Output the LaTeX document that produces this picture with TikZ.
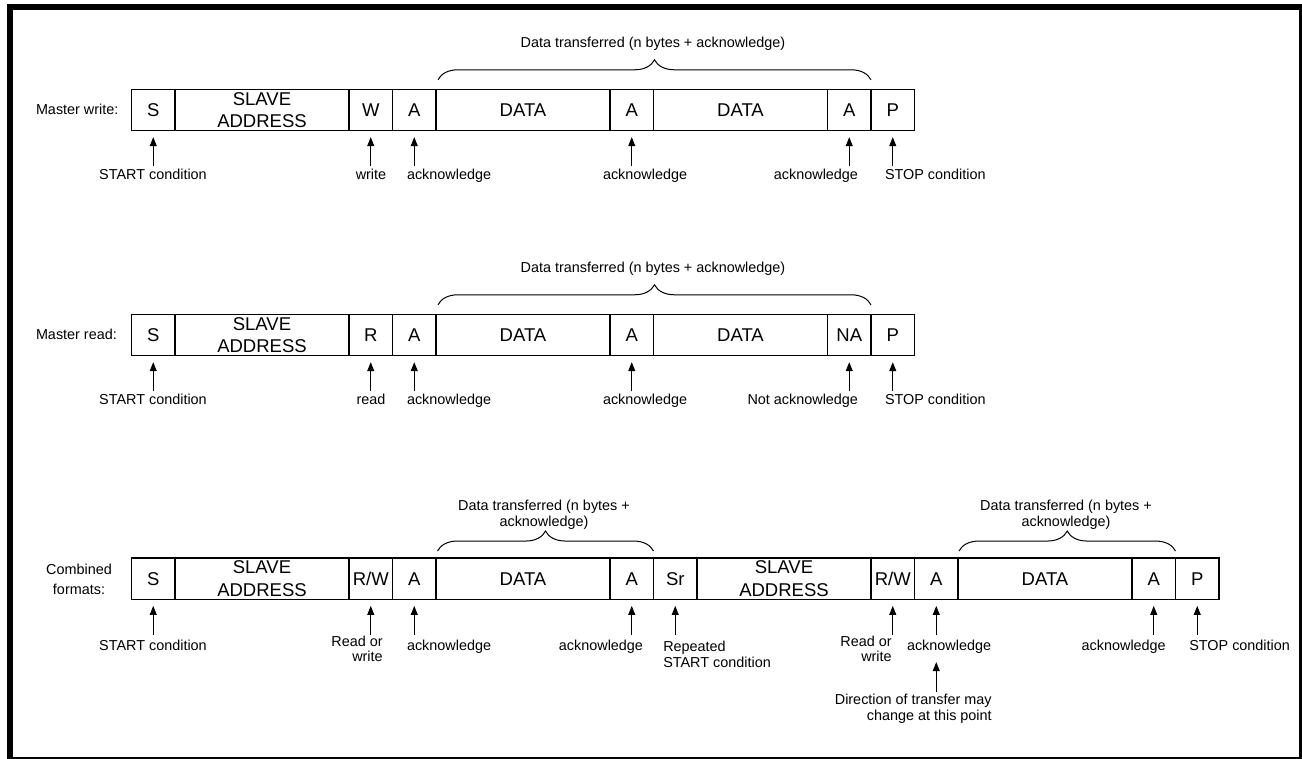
\documentclass[tikz,border=0pt]{standalone}
\usepackage{fontspec}
\setmainfont{Liberation Sans}
\usetikzlibrary{arrows.meta,decorations.pathreplacing}
\tikzset{
  frame/.style={line width=5.8pt},
  cell/.style={draw, line width=1.5pt, minimum height=41.4pt, inner sep=0pt, outer sep=0pt,
    font=\fontsize{18.5}{22.4}\selectfont, align=center},
  u1/.style={cell, minimum width=43.5pt},
  u4/.style={cell, minimum width=174pt},
  lbl/.style={font=\fontsize{14.4}{16}\selectfont, inner sep=0pt, outer sep=0pt},
  arr/.style={-{Triangle[length=9pt,width=7pt]}, line width=1pt},
  brc/.style={decorate, decoration={brace, amplitude=20pt}, line width=1pt}
}
\begin{document}
\begin{tikzpicture}[x=1pt,y=-1pt]
\useasboundingbox (0,0) rectangle (1302,759);
\draw[frame] (10,6.7) rectangle (1302,760);

% ---------------- Row 1: Master write ----------------
\node[lbl,anchor=base west] (w-lab) at (36,115) {Master write:};
\node[u1] (w-S)  at (153.25,110) {S};
\node[u4] (w-SA) at (262,110) {SLAVE\\ADDRESS};
\node[u1] (w-W)  at (370.75,110) {W};
\node[u1] (w-A1) at (414.25,110) {A};
\node[u4] (w-D1) at (523,110) {DATA};
\node[u1] (w-A2) at (631.75,110) {A};
\node[u4] (w-D2) at (740.5,110) {DATA};
\node[u1] (w-A3) at (849.25,110) {A};
\node[u1] (w-P)  at (892.75,110) {P};
\node[lbl,anchor=base] (w-dt) at (653,47.5) {Data transferred (n bytes + acknowledge)};
\draw[brc] ([xshift=2pt,yshift=9.5pt]w-D1.north west) -- ([yshift=9.5pt]w-A3.north east);
\foreach \n in {w-S,w-W,w-A1,w-A2,w-A3,w-P}
  \draw[arr] ([yshift=-35.5pt]\n.south) -- ([yshift=-6.5pt]\n.south);
\node[lbl,anchor=base] (w-l1) at (153,180) {START condition};
\node[lbl,anchor=base] (w-l2) at (371,180) {write};
\node[lbl,anchor=base west] (w-l3) at (407,180) {acknowledge};
\node[lbl,anchor=base west] (w-l4) at (603,180) {acknowledge};
\node[lbl,anchor=base east] (w-l5) at (858,180) {acknowledge};
\node[lbl,anchor=base west] (w-l6) at (885,180) {STOP condition};

% ---------------- Row 2: Master read ----------------
\node[lbl,anchor=base west] (r-lab) at (36,340) {Master read:};
\node[u1] (r-S)  at (153.25,335) {S};
\node[u4] (r-SA) at (262,335) {SLAVE\\ADDRESS};
\node[u1] (r-R)  at (370.75,335) {R};
\node[u1] (r-A1) at (414.25,335) {A};
\node[u4] (r-D1) at (523,335) {DATA};
\node[u1] (r-A2) at (631.75,335) {A};
\node[u4] (r-D2) at (740.5,335) {DATA};
\node[u1] (r-NA) at (849.25,335) {NA};
\node[u1] (r-P)  at (892.75,335) {P};
\node[lbl,anchor=base] (r-dt) at (653,272.5) {Data transferred (n bytes + acknowledge)};
\draw[brc] ([xshift=2pt,yshift=9.5pt]r-D1.north west) -- ([yshift=9.5pt]r-NA.north east);
\foreach \n in {r-S,r-R,r-A1,r-A2,r-NA,r-P}
  \draw[arr] ([yshift=-35.5pt]\n.south) -- ([yshift=-6.5pt]\n.south);
\node[lbl,anchor=base] (r-l1) at (153,405) {START condition};
\node[lbl,anchor=base] (r-l2) at (371,405) {read};
\node[lbl,anchor=base west] (r-l3) at (407,405) {acknowledge};
\node[lbl,anchor=base west] (r-l4) at (603,405) {acknowledge};
\node[lbl,anchor=base east] (r-l5) at (858,405) {Not acknowledge};
\node[lbl,anchor=base west] (r-l6) at (885,405) {STOP condition};

% ---------------- Row 3: Combined formats ----------------
\node[lbl,align=center,anchor=north,font=\fontsize{14.4}{19.3}\selectfont] (c-lab) at (79,564.5) {Combined\\formats:};
\node[u1] (c-S)   at (153.25,578.75) {S};
\node[u4] (c-SA1) at (262,578.75) {SLAVE\\ADDRESS};
\node[u1] (c-RW1) at (370.75,578.75) {R/W};
\node[u1] (c-A1)  at (414.25,578.75) {A};
\node[u4] (c-D1)  at (523,578.75) {DATA};
\node[u1] (c-A2)  at (631.75,578.75) {A};
\node[u1] (c-Sr)  at (675.25,578.75) {Sr};
\node[u4] (c-SA2) at (784,578.75) {SLAVE\\ADDRESS};
\node[u1] (c-RW2) at (892.75,578.75) {R/W};
\node[u1] (c-A3)  at (936.25,578.75) {A};
\node[u4] (c-D2)  at (1045,578.75) {DATA};
\node[u1] (c-A4)  at (1153.75,578.75) {A};
\node[u1] (c-P)   at (1197.25,578.75) {P};
\node[lbl,align=center,anchor=north] (c-dt1) at (544,500) {Data transferred (n bytes +\\acknowledge)};
\node[lbl,align=center,anchor=north] (c-dt2) at (1066,500) {Data transferred (n bytes +\\acknowledge)};
\draw[brc] ([xshift=1.5pt,yshift=7pt]c-D1.north west) -- ([yshift=7pt]c-A2.north east);
\draw[brc] ([xshift=1pt,yshift=7pt]c-D2.north west) -- ([yshift=7pt]c-A4.north east);
\foreach \n in {c-S,c-RW1,c-A1,c-A2,c-Sr,c-RW2,c-A3,c-A4,c-P}
  \draw[arr] ([yshift=-35.5pt]\n.south) -- ([yshift=-6.5pt]\n.south);
\node[lbl,anchor=base] (c-l1) at (153,650) {START condition};
\node[lbl,align=right,anchor=north east,font=\fontsize{14.4}{15}\selectfont] (c-l2) at (382.7,636.5) {Read or\\write};
\node[lbl,anchor=base west] (c-l3) at (407,650) {acknowledge};
\node[lbl,anchor=base east] (c-l4) at (643,650) {acknowledge};
\node[lbl,align=left,anchor=north west,font=\fontsize{14.4}{16.5}\selectfont] (c-l5) at (663.3,641) {Repeated\\START condition};
\node[lbl,align=right,anchor=north east,font=\fontsize{14.4}{15}\selectfont] (c-l6) at (891.7,636.5) {Read or\\write};
\node[lbl,anchor=base west] (c-l7) at (907,650) {acknowledge};
\node[lbl,align=right,anchor=north east,font=\fontsize{14.4}{16.5}\selectfont] (c-dir) at (991.7,694) {Direction of transfer may\\change at this point};
\node[lbl,anchor=base west] (c-l8) at (1081.7,650) {acknowledge};
\node[lbl,anchor=base west] (c-l9) at (1189.3,650) {STOP condition};
\draw[arr] ([yshift=-92.7pt]c-A3.south) -- ([yshift=-62.7pt]c-A3.south);
\end{tikzpicture}
\end{document}
